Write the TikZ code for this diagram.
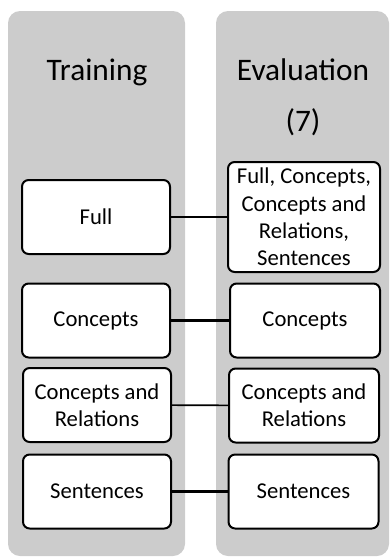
\documentclass[tikz,border=0pt]{standalone}
\usepackage{fontspec}
\setmainfont{Carlito}
\usetikzlibrary{positioning}
\definecolor{panelgray}{RGB}{204,204,204}

\begin{document}
\begin{tikzpicture}[x=0.75pt,y=-0.75pt,
	panel/.style={fill=panelgray,rounded corners=9pt,inner sep=0pt},
	box/.style={draw=black,line width=1.5pt,fill=white,rounded corners=5pt,align=center,inner sep=0pt,
		minimum width=111pt,minimum height=55.5pt,font=\fontsize{17}{20.5}\selectfont},
	title/.style={align=center,font=\fontsize{23.5}{38}\selectfont},
	thinlink/.style={line width=1.2pt},
	thicklink/.style={line width=2.3pt}]
	\useasboundingbox (0,0) rectangle (390,557);

	\node[panel,minimum width=132.75pt,minimum height=408.75pt] (trainpanel) at (96.5,283.5) {};
	\node[panel,minimum width=129.75pt,minimum height=408.75pt] (evalpanel) at (302.5,283.5) {};

	\node[title] (traintitle) at (97,72) {Training};
	\node[title] (evaltitle) at (303,97) {Evaluation\\(7)};

	\node[box] (trfull) at (96,217) {Full};
	\node[box] (trconc) at (96,320.5) {Concepts};
	\node[box] (trrel) at (97,405) {Concepts and\\Relations};
	\node[box] (trsent) at (97,491.5) {Sentences};

	\node[box,minimum width=114pt,minimum height=82.5pt] (evfull) at (304,217) {Full, Concepts,\\Concepts and\\Relations,\\Sentences};
	\node[box,minimum width=112.5pt] (evconc) at (305,320.5) {Concepts};
	\node[box,minimum width=112.5pt] (evrel) at (304,405.5) {Concepts and\\Relations};
	\node[box,minimum width=112.5pt] (evsent) at (303.5,491.5) {Sentences};

	\draw[thinlink] (trfull) -- (evfull);
	\draw[thicklink] (trconc) -- (evconc);
	\draw[thinlink] (trrel) -- (evrel);
	\draw[thicklink] (trsent) -- (evsent);
\end{tikzpicture}
\end{document}
